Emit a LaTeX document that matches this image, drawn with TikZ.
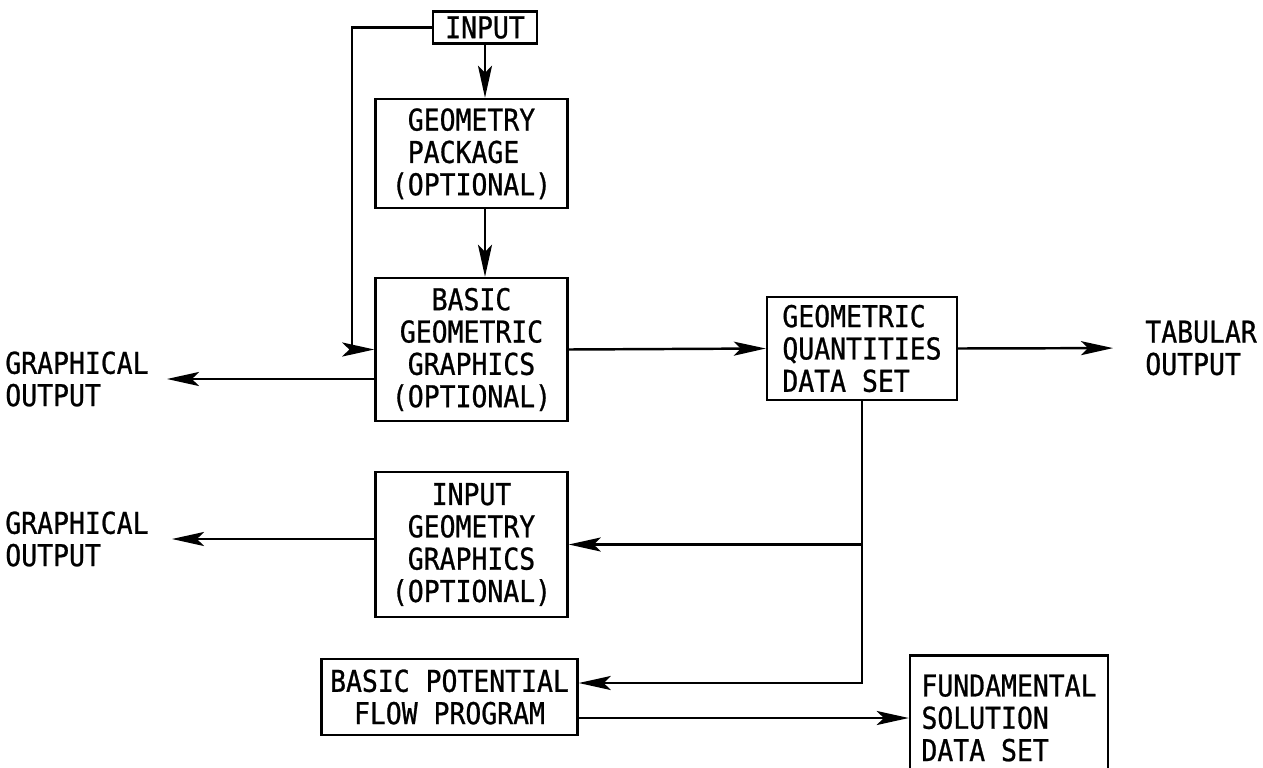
\documentclass[tikz,border=0pt]{standalone}
\usepackage{fontspec}
\newfontfamily\chartfont[FakeStretch=0.88,FakeBold=0.8]{DejaVu Sans Mono}
\usetikzlibrary{arrows.meta,calc}

\begin{document}
\begin{tikzpicture}[x=0.02cm,y=-0.02cm,
	every node/.style={font=\chartfont\fontsize{17.1pt}{18.4pt}\selectfont},
	box/.style={draw,line width=1.4pt,inner sep=0pt,align=center},
	lbl/.style={inner sep=0pt,align=left,anchor=west},
	arr/.style={line width=1.4pt,-{Stealth[length=6.4mm,width=2.8mm,inset=1.4mm]}}]
	\useasboundingbox (0,0) rectangle (1263,767);
	% boxes
	\node[box,minimum width=2.08cm,minimum height=0.64cm] (inp) at (485,27.5) {INPUT};
	\node[box,align=left,minimum width=3.84cm,minimum height=2.18cm] (geo) at (471.5,153.5) {\phantom{(}GEOMETRY\\\phantom{(}PACKAGE\\(OPTIONAL)};
	\node[box,minimum width=3.84cm,minimum height=2.86cm] (bgg) at (471.5,349.5) {BASIC\\GEOMETRIC\\GRAPHICS\\(OPTIONAL)};
	\node[box,minimum width=3.84cm,minimum height=2.9cm] (igg) at (471.5,544.5) {INPUT\\GEOMETRY\\GRAPHICS\\(OPTIONAL)};
	\node[box,minimum width=5.12cm,minimum height=1.52cm] (bpf) at (449.5,697) {BASIC POTENTIAL\\FLOW PROGRAM};
	\node[box,align=left,minimum width=3.8cm,minimum height=2.06cm] (gq) at (862,348.5) {GEOMETRIC\\QUANTITIES\\DATA SET};
	\node[box,align=left,minimum width=3.96cm,minimum height=2.5cm] (fund) at (1009,718) {FUNDAMENTAL\\SOLUTION\\DATA SET};
	% outputs
	\node[lbl] (go1) at (5,379) {GRAPHICAL\\OUTPUT};
	\node[lbl] (go2) at (5,539) {GRAPHICAL\\OUTPUT};
	\node[lbl] (tab) at (1145,348) {TABULAR\\OUTPUT};
	\coordinate (fb) at (352,27.5);
	\coordinate (bpfin) at ($(bpf.east)+(0,-14)$);
	\coordinate (bpfout) at ($(bpf.east)+(0,21)$);
	% connectors
	\draw[arr] (inp.south) -- (inp.south |- geo.north);
	\draw[arr] (geo.south -| inp.south) -- (bgg.north -| inp.south);
	\draw[arr] (inp.west) -- (fb) |- (bgg.west);
	\draw[arr] (bgg.east) -- (gq.west);
	\draw[arr,shorten >=0.64cm] (gq.east) -- (tab.west);
	\draw[arr,shorten >=0.36cm] (bgg.west |- go1.east) -- (go1.east);
	\draw[arr,shorten >=0.46cm] (igg.west |- go2.east) -- (go2.east);
	\draw[arr] (gq.south) |- (bpfin);
	\draw[arr] (gq.south |- igg.east) -- (igg.east);
	\draw[arr] (bpfout) -- (bpfout -| fund.west);
\end{tikzpicture}
\end{document}
